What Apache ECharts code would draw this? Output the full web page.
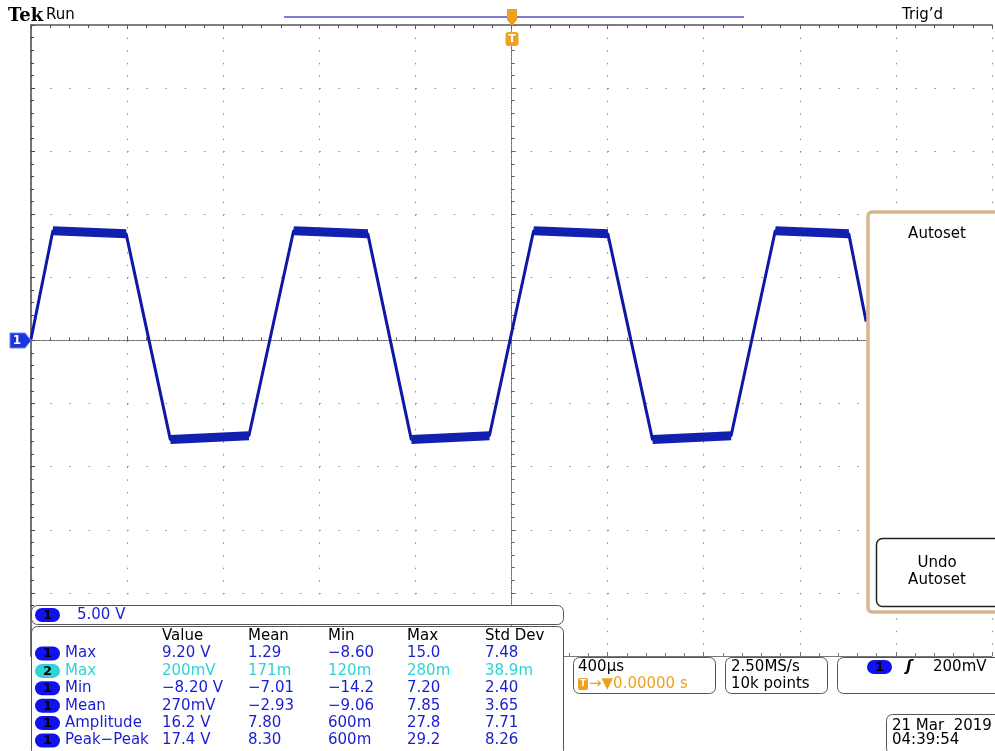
<!DOCTYPE html>
<html>
<head>
<meta charset="utf-8">
<script src="https://cdn.jsdelivr.net/npm/echarts@6/dist/echarts.min.js"></script>
<style>
html, body { margin: 0; padding: 0; background: #fff; }
#scope { width: 995px; height: 751px; }
</style>
</head>
<body>
<div id="scope"></div>
<script>
// ch1 trace corners: time in us (400us/div), volts (5V/div)
const timeUs = [-2000, -1909, -1604, -1420, -1093, -907, -598, -417, -92, 92, 401, 587, 914, 1098, 1404, 1476];
const volts  = [0.1, 8.7, 8.45, -7.85, -7.55, 8.7, 8.45, -7.85, -7.55, 8.7, 8.45, -7.85, -7.55, 8.7, 8.45, 1.5];
// index where each noisy flat part starts (runs to the next point)
const flatStarts = [1, 3, 5, 7, 9, 11, 13];

const measHeaders = ['Value', 'Mean', 'Min', 'Max', 'Std Dev'];
const measChannels = ['1', '2', '1', '1', '1', '1'];
const measNames = ['Max', 'Max', 'Min', 'Mean', 'Amplitude', 'Peak\u2212Peak'];
const measRows = [
  ['9.20 V', '1.29', '\u22128.60', '15.0', '7.48'],
  ['200mV', '171m', '120m', '280m', '38.9m'],
  ['\u22128.20 V', '\u22127.01', '\u221214.2', '7.20', '2.40'],
  ['270mV', '\u22122.93', '\u22129.06', '7.85', '3.65'],
  ['16.2 V', '7.80', '600m', '27.8', '7.71'],
  ['17.4 V', '8.30', '600m', '29.2', '8.26']
];

const trace = timeUs.map((t, i) => [t, volts[i]]);
const flats = [];
flatStarts.forEach(i => {
  flats.push([timeUs[i], volts[i]], [timeUs[i + 1], volts[i + 1]], [timeUs[i + 1], '-']);
});

const BLUE = '#1a1ed0';
const CYAN = '#2ed3d3';
const ORANGE = '#f0a020';
const FONT = '15px "DejaVu Sans"';

function txt(x, y, s, fill, font, align) {
  return { type: 'text', x: x, y: y, z: 100,
    style: { text: s, fill: fill || '#000', font: font || FONT, align: align || 'left', verticalAlign: 'middle' } };
}
function box(x, y, w, h, r, stroke, lw) {
  return { type: 'rect', z: 99, shape: { x: x, y: y, width: w, height: h, r: r },
    style: { fill: '#fff', stroke: stroke || '#555', lineWidth: lw || 1 } };
}
function pill(x, y, label, fill) {
  return [
    { type: 'rect', z: 100, shape: { x: x, y: y - 7, width: 25, height: 14, r: 7 }, style: { fill: fill } },
    txt(x + 12.5, y + 0.5, label, '#000', 'bold 13px "DejaVu Sans"', 'center')
  ];
}

const g = [];
// header
g.push(txt(8, 16, 'Tek', '#000', 'bold 18px "DejaVu Serif"'));
g.push(txt(46, 15, 'Run', '#000', '15px "DejaVu Sans"'));
g.push(txt(902, 15, 'Trig\u2019d', '#000', '15px "DejaVu Sans"'));
g.push({ type: 'line', z: 100, shape: { x1: 284, y1: 17, x2: 744, y2: 17 }, style: { stroke: '#5050c8', lineWidth: 1.5 } });
g.push({ type: 'polygon', z: 101, shape: { points: [[507, 9], [517, 9], [517, 20], [512, 26], [507, 20]] }, style: { fill: ORANGE } });
g.push(txt(512, 16, 'T', '#fff', 'bold 10px "DejaVu Sans"', 'center'));
g.push({ type: 'rect', z: 100, shape: { x: 505.5, y: 32, width: 13, height: 14, r: 3 }, style: { fill: ORANGE } });
g.push(txt(512, 39, 'T', '#fff', 'bold 11px "DejaVu Sans"', 'center'));
// ch1 ground marker
g.push({ type: 'polygon', z: 100, shape: { points: [[10, 333], [25, 333], [31, 340.5], [25, 348], [10, 348]] }, style: { fill: '#1c34e0', stroke: '#7080e8', lineWidth: 1 } });
g.push(txt(17, 341, '1', '#fff', 'bold 12px "DejaVu Sans"', 'center'));

// autoset menu
g.push(box(868, 212, 140, 400, 4, '#dcb48c', 3.5));
g.push(txt(937, 234, 'Autoset', '#000', '15px "DejaVu Sans"', 'center'));
g.push(box(876.5, 538.5, 130, 68, 6, '#222', 1.5));
g.push(txt(937, 563, 'Undo', '#000', '15px "DejaVu Sans"', 'center'));
g.push(txt(937, 580, 'Autoset', '#000', '15px "DejaVu Sans"', 'center'));

// channel scale + measurement table
g.push(box(31.5, 605.5, 532, 19, 6));
g.push(...pill(35, 615, '1', '#1010f0'));
g.push(txt(77, 615, '5.00 V', BLUE));
g.push(box(31.5, 626.5, 532, 130, 6));
const colX = [162, 248, 328, 407, 485];
measHeaders.forEach((h, j) => g.push(txt(colX[j], 636, h, '#000')));
measRows.forEach((row, i) => {
  const y = 653.5 + i * 17.4;
  const c = measChannels[i] === '2' ? CYAN : BLUE;
  g.push(...pill(35, y, measChannels[i], measChannels[i] === '2' ? CYAN : '#1010f0'));
  g.push(txt(65, y, measNames[i], c));
  row.forEach((v, j) => g.push(txt(colX[j], y, v, c)));
});

// timebase / acquisition / trigger / date boxes
g.push(box(573.5, 657.5, 142, 36, 6));
g.push(txt(578, 667, '400\u00b5s', '#000'));
g.push({ type: 'rect', z: 100, shape: { x: 578, y: 678, width: 10, height: 12, r: 2 }, style: { fill: ORANGE } });
g.push(txt(583, 684, 'T', '#fff', 'bold 9px "DejaVu Sans"', 'center'));
g.push(txt(589, 684, '\u2192\u25bc0.00000 s', ORANGE, '15px "DejaVu Sans"'));
g.push(box(725.5, 657.5, 102, 36, 6));
g.push(txt(731, 667, '2.50MS/s', '#000'));
g.push(txt(731, 684, '10k points', '#000'));
g.push(box(837.5, 657.5, 165, 36, 6));
g.push(...pill(867, 667, '1', '#1010f0'));
g.push(txt(906, 667, '\u0283', '#000', 'italic bold 15px "DejaVu Sans"'));
g.push(txt(933, 667, '200mV', '#000'));
g.push(box(886.5, 714.5, 115, 40, 6));
g.push(txt(892, 726, '21 Mar  2019', '#000'));
g.push(txt(892, 740, '04:39:54', '#000'));

const noLabel = { show: false };
const chart = echarts.init(document.getElementById('scope'));
chart.setOption({
  animation: false,
  grid: { left: 31, top: 25, width: 961, height: 631, containLabel: false },
  xAxis: [
    { type: 'value', min: -2000, max: 2000, interval: 400,
      axisLine: { onZero: true, onZeroAxisIndex: 0, lineStyle: { color: '#666', type: [1, 1.5], width: 1 } },
      axisTick: { show: true, inside: true, length: 4, lineStyle: { color: '#666' } },
      minorTick: { show: true, splitNumber: 5, length: 3, lineStyle: { color: '#666' } },
      axisLabel: noLabel,
      splitLine: { show: true, lineStyle: { color: '#8c8c8c', type: [1.5, 11.12], width: 1 } } },
    { type: 'value', min: -2000, max: 2000, interval: 400,
      axisLine: { onZero: true, onZeroAxisIndex: 0, lineStyle: { color: '#666', type: [1, 1.5], width: 1 } },
      axisTick: { show: true, inside: false, length: 4, lineStyle: { color: '#666' } },
      minorTick: { show: true, splitNumber: 5, length: 3, lineStyle: { color: '#666' } },
      axisLabel: noLabel, splitLine: { show: false } },
    { type: 'value', min: -2000, max: 2000, interval: 400, position: 'top',
      axisLine: { onZero: false, lineStyle: { color: '#555', width: 1.5 } },
      axisTick: { show: true, inside: true, length: 4, lineStyle: { color: '#555' } },
      minorTick: { show: true, splitNumber: 5, length: 3, lineStyle: { color: '#555' } },
      axisLabel: noLabel, splitLine: { show: false } },
    { type: 'value', min: -2000, max: 2000, interval: 400, position: 'bottom',
      axisLine: { onZero: false, lineStyle: { color: '#777', width: 1 } },
      axisTick: { show: true, inside: true, length: 4, lineStyle: { color: '#777' } },
      minorTick: { show: true, splitNumber: 5, length: 3, lineStyle: { color: '#777' } },
      axisLabel: noLabel, splitLine: { show: false } }
  ],
  yAxis: [
    { type: 'value', min: -25, max: 25, interval: 5,
      axisLine: { onZero: true, onZeroAxisIndex: 0, lineStyle: { color: '#666', type: [1, 1.5], width: 1 } },
      axisTick: { show: true, inside: true, length: 4, lineStyle: { color: '#666' } },
      minorTick: { show: true, splitNumber: 5, length: 3, lineStyle: { color: '#666' } },
      axisLabel: noLabel,
      splitLine: { show: true, lineStyle: { color: '#8c8c8c', type: [1.5, 17.72], width: 1 } } },
    { type: 'value', min: -25, max: 25, interval: 5,
      axisLine: { onZero: true, onZeroAxisIndex: 0, lineStyle: { color: '#666', type: [1, 1.5], width: 1 } },
      axisTick: { show: true, inside: false, length: 4, lineStyle: { color: '#666' } },
      minorTick: { show: true, splitNumber: 5, length: 3, lineStyle: { color: '#666' } },
      axisLabel: noLabel, splitLine: { show: false } },
    { type: 'value', min: -25, max: 25, interval: 5, position: 'left',
      axisLine: { onZero: false, lineStyle: { color: '#444', width: 1.5 } },
      axisTick: { show: true, inside: true, length: 4, lineStyle: { color: '#444' } },
      minorTick: { show: true, splitNumber: 5, length: 3, lineStyle: { color: '#444' } },
      axisLabel: noLabel, splitLine: { show: false } }
  ],
  series: [
    { type: 'line', data: trace, symbol: 'none', xAxisIndex: 0, yAxisIndex: 0, z: 5,
      lineStyle: { color: '#0e18a6', width: 3 } },
    { type: 'line', data: flats, symbol: 'none', xAxisIndex: 0, yAxisIndex: 0, z: 6, connectNulls: false,
      lineStyle: { color: '#1220b0', width: 9 } }
  ],
  graphic: { elements: g }
});
</script>
</body>
</html>
